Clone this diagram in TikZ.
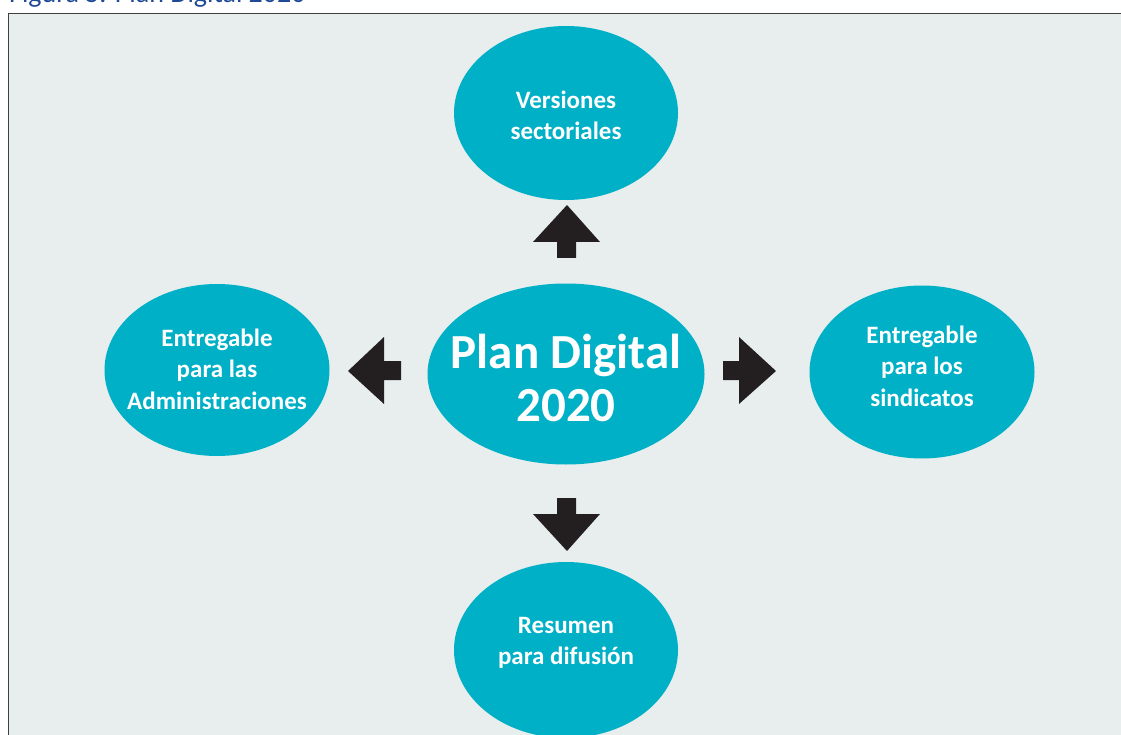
\documentclass[tikz,border=0pt]{standalone}
\usepackage{fontspec}
\setmainfont{Carlito}
\usetikzlibrary{shapes.geometric}
\definecolor{bubble}{RGB}{0,176,198}
\definecolor{panel}{RGB}{232,237,237}
\definecolor{framec}{RGB}{64,64,64}
\definecolor{arrowc}{RGB}{35,31,32}
\definecolor{titleblue}{RGB}{31,73,150}
\tikzset{
  bubblebox/.style={ellipse, fill=bubble, draw=none, inner sep=0pt},
  smalltxt/.style={text=white, align=center, font=\bfseries\fontsize{25}{31.5}\selectfont, inner sep=0pt},
  bigtxt/.style={text=white, align=center, font=\bfseries\fontsize{49}{53}\selectfont, inner sep=0pt},
  blockarrow/.style={fill=arrowc, draw=none},
}
\begin{document}
\begin{tikzpicture}[x=1pt,y=-1pt]
\useasboundingbox (0,0) rectangle (1121,735);
\clip (0,0) rectangle (1121,735);
% partially cut title
\begin{scope}
\clip (0,0) rectangle (1121,11);
\node[anchor=base west, inner sep=0pt, text=titleblue, font=\fontsize{28}{32}\selectfont] (title) at (9,2.5) {Figura 5. Plan Digital 2020};
\end{scope}
% panel
\fill[panel] (8.5,13.5) rectangle (1130,745);
\draw[framec, line width=1.5pt] (8.5,745) -- (8.5,13.5) -- (1130,13.5);
% bubbles
\node[bubblebox, minimum width=224pt, minimum height=174pt] (top) at (566,113) {};
\node[bubblebox, minimum width=277pt, minimum height=181pt] (center) at (566,374) {};
\node[bubblebox, minimum width=225pt, minimum height=172pt] (left) at (217,370) {};
\node[bubblebox, minimum width=225pt, minimum height=173pt] (right) at (922,372) {};
\node[bubblebox, minimum width=224pt, minimum height=176pt] (bottom) at (566,650) {};
% texts
\node[smalltxt] (ttop) at ([yshift=-2.5pt]top.center) {Versiones\\sectoriales};
\node[smalltxt] (tleft) at ([yshift=1pt]left.center) {Entregable\\para las\\Administraciones};
\node[smalltxt] (tright) at ([yshift=6pt]right.center) {Entregable\\para los\\sindicatos};
\node[smalltxt] (tbottom) at ([yshift=7pt]bottom.center) {Resumen\\para difusión};
\node[bigtxt] (tcenter) at ([yshift=-4pt]center.center) {Plan Digital\\2020};
% block arrows
\fill[blockarrow] (567,205) -- (600,242) -- (576,242) -- (576,258) -- (557,258) -- (557,242) -- (533,242) -- cycle;
\fill[blockarrow] (567,551) -- (600,514) -- (576,514) -- (576,498) -- (557,498) -- (557,514) -- (533,514) -- cycle;
\fill[blockarrow] (348,371) -- (384,337) -- (384,361) -- (401,361) -- (401,380) -- (384,380) -- (384,404) -- cycle;
\fill[blockarrow] (776,371) -- (739,337) -- (739,361) -- (723,361) -- (723,380) -- (739,380) -- (739,404) -- cycle;
\end{tikzpicture}
\end{document}
